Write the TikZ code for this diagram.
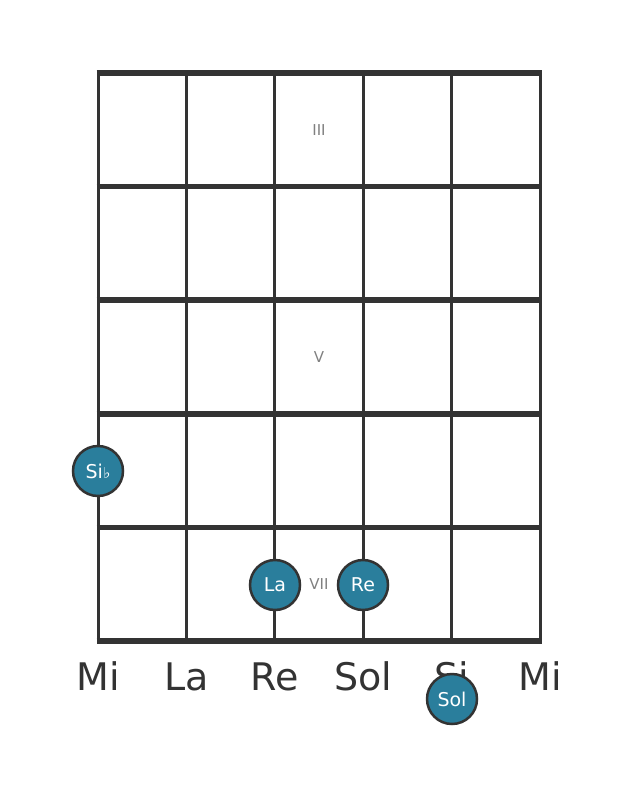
\documentclass[tikz,border=0pt]{standalone}
\usepackage{fontspec}
\setmainfont{DejaVu Sans}
\usetikzlibrary{positioning}
\usetikzlibrary{calc}
\definecolor{note colour}{HTML}{2A7E9C}
\definecolor{line colour}{HTML}{333333}
\colorlet{mark colour}{black!50}
\tikzset{
    % Lines of the fretboard
    fret line/.style={draw=line colour, line width=5.5pt},
    string line/.style={draw=line colour, line width=3pt},
%
    % Text and notes
    note/.style={circle, draw=line colour, line width=2.5pt, fill=note colour,
        text=white, minimum size=50pt, inner sep=0,
        font=\fontsize{19}{19}\selectfont},
    string name/.style={text=line colour, anchor=base,
        font=\fontsize{38}{38}\selectfont},
    fret mark/.style={text=mark colour, font=\fontsize{15}{15}\selectfont},
    every node/.style={align=center},
}

\begin{document}
\begin{tikzpicture}[x=1pt, y=-1pt]

\newcommand{\stringgap}{88.4}
\newcommand{\fretgap}{113.6}

\useasboundingbox (0,0) rectangle (631,797);

% Strings, with their names below the board
\foreach \sname [count=\i from 0] in {Mi, La, Re, Sol, Si, Mi}
{
    \coordinate (s\i top) at (98+\stringgap*\i, 73);
    \coordinate (s\i bottom) at (98+\stringgap*\i, 641);
    \draw [string line] (s\i top) -- (s\i bottom);
    \node [string name] (name\i) at (98+\stringgap*\i, 690) {\sname};
}

% Frets
\foreach \j in {0,...,5}
{
    \draw [fret line] (96.5, 73+\fretgap*\j) -- (541.5, 73+\fretgap*\j);
}

% Fret numbers
\foreach \j/\num in {0/III, 2/V, 4/VII}
{
    \node [fret mark] (mark\j) at (319, 73+\fretgap*\j+\fretgap/2) {\num};
}

% Notes
\node [note] (sib) at (98, 471) {Si\kern0.5pt{\fontsize{15}{15}\selectfont ♭}};
\node [note] (la) at (275, 585) {La};
\node [note] (re) at (363, 585) {Re};
\node [note] (sol) at (452, 699) {Sol};

\end{tikzpicture}
\end{document}
